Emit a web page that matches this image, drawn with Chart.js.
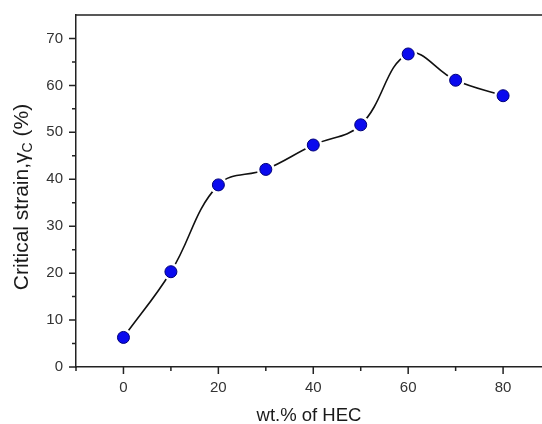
<!DOCTYPE html>
<html>
<head>
<meta charset="utf-8">
<script src="https://cdn.jsdelivr.net/npm/chart.js@4"></script>
<style>
  html, body { margin: 0; padding: 0; background: #fff; overflow: hidden; }
</style>
</head>
<body>
<canvas id="strainChart" width="542" height="424"></canvas>
<script>
// HEC 함량 (wt.%)
const hecContent = [0, 10, 20, 30, 40, 50, 60, 70, 80];
// 임계 변형률 (%)
const criticalStrain = [6.3, 20.3, 38.8, 42.1, 47.3, 51.6, 66.7, 61.1, 57.8];
// 눈금 라벨
const xTickLabels = [0, 20, 40, 60, 80];
const yTickLabels = [0, 10, 20, 30, 40, 50, 60, 70];

const FONT = "'Liberation Sans', Arial, sans-serif";
const AXIS_COLOR = '#222';

const points = hecContent.map((v, i) => ({ x: v, y: criticalStrain[i] }));

// 축 눈금, 윗선, y축 제목(아래첨자 포함)
const axisDecor = {
    id: 'axisDecor',
    afterDraw(chart) {
        const { ctx, chartArea: a, scales: { x, y } } = chart;
        ctx.save();
        ctx.strokeStyle = AXIS_COLOR;
        ctx.lineWidth = 1.5;
        ctx.beginPath();
        ctx.moveTo(a.left, a.top);
        ctx.lineTo(a.right, a.top);
        for (let v = -10; v <= 80; v += 10) {
            const px = x.getPixelForValue(v);
            const len = xTickLabels.includes(v) ? 7 : 4;
            ctx.moveTo(px, a.bottom);
            ctx.lineTo(px, a.bottom + len);
        }
        for (let v = 0; v <= 70; v += 5) {
            const py = y.getPixelForValue(v);
            const len = yTickLabels.includes(v) ? 7 : 4;
            ctx.moveTo(a.left, py);
            ctx.lineTo(a.left - len, py);
        }
        ctx.stroke();

        // y축 제목
        const main = 'Critical strain,\u03b3';
        const sub = 'C';
        const tail = ' (%)';
        ctx.fillStyle = '#1a1a1a';
        ctx.textBaseline = 'alphabetic';
        ctx.font = '21px ' + FONT;
        const w1 = ctx.measureText(main).width;
        const w3 = ctx.measureText(tail).width;
        ctx.font = '14px ' + FONT;
        const w2 = ctx.measureText(sub).width;
        const total = w1 + w2 + w3;
        ctx.translate(28, 197);
        ctx.rotate(-Math.PI / 2);
        let cx = -total / 2;
        ctx.font = '21px ' + FONT;
        ctx.fillText(main, cx, 0);
        cx += w1;
        ctx.font = '14px ' + FONT;
        ctx.fillText(sub, cx, 4);
        cx += w2;
        ctx.font = '21px ' + FONT;
        ctx.fillText(tail, cx, 0);
        ctx.restore();
    }
};

new Chart(document.getElementById('strainChart').getContext('2d'), {
    type: 'line',
    data: {
        datasets: [
            {
                // 곡선
                data: points,
                borderColor: '#111',
                borderWidth: 1.6,
                tension: 0.4,
                pointRadius: 0,
                fill: false,
                order: 3
            },
            {
                // 마커 주변 흰 여백
                data: points,
                showLine: false,
                pointRadius: 9,
                pointBackgroundColor: '#fff',
                pointBorderWidth: 0,
                order: 2
            },
            {
                // 마커
                data: points,
                showLine: false,
                pointRadius: 6,
                pointBackgroundColor: '#0a0aee',
                pointBorderColor: '#00007a',
                pointBorderWidth: 1,
                order: 1
            }
        ]
    },
    options: {
        responsive: false,
        animation: false,
        layout: { autoPadding: false, padding: { top: 15, left: 0, right: 0, bottom: 0 } },
        plugins: {
            legend: { display: false },
            tooltip: { enabled: false }
        },
        scales: {
            x: {
                type: 'linear',
                min: -10,
                max: 88.2,
                afterBuildTicks: (scale) => {
                    const t = [];
                    for (let v = -10; v <= 80; v += 10) t.push({ value: v });
                    scale.ticks = t;
                },
                afterFit: (scale) => {
                    scale.height = 57;
                    scale.paddingLeft = 0;
                    scale.paddingRight = 0;
                },
                grid: { display: false, drawTicks: false },
                border: { display: true, color: AXIS_COLOR, width: 1.5 },
                ticks: {
                    padding: 12,
                    maxRotation: 0,
                    autoSkip: false,
                    color: '#333',
                    font: { family: FONT, size: 15 },
                    callback: (v) => xTickLabels.includes(v) ? String(v) : ''
                },
                title: {
                    display: true,
                    text: 'wt.% of HEC',
                    color: '#1a1a1a',
                    font: { family: FONT, size: 18.5 },
                    padding: { top: 0, bottom: -3 }
                }
            },
            y: {
                min: 0,
                max: 75,
                afterFit: (scale) => {
                    scale.width = 76;
                    scale.paddingTop = 0;
                    scale.paddingBottom = 0;
                },
                grid: { display: false, drawTicks: false },
                border: { display: true, color: AXIS_COLOR, width: 1.5 },
                ticks: {
                    stepSize: 10,
                    padding: 13,
                    autoSkip: false,
                    color: '#333',
                    font: { family: FONT, size: 15 },
                    callback: (v) => yTickLabels.includes(v) ? String(v) : ''
                }
            }
        }
    },
    plugins: [axisDecor]
});
</script>
</body>
</html>
